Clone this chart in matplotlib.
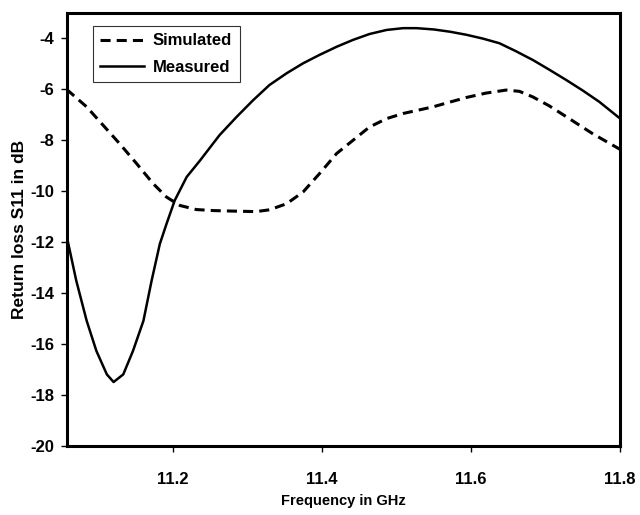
import matplotlib
matplotlib.use('Agg')
from matplotlib import pyplot as plt

# Values
freq_meas = [11.058, 11.071, 11.085, 11.098, 11.112, 11.121, 11.134, 11.147, 11.161, 11.172,
             11.183, 11.192, 11.203, 11.219, 11.237, 11.263, 11.286, 11.308, 11.330, 11.353,
             11.375, 11.397, 11.420, 11.442, 11.464, 11.487, 11.509, 11.527, 11.550, 11.572,
             11.594, 11.616, 11.638, 11.660, 11.683, 11.705, 11.728, 11.750, 11.772, 11.800]
s11_meas = [-11.74, -13.51, -15.09, -16.27, -17.19, -17.49, -17.19, -16.27, -15.09, -13.51,
            -12.07, -11.28, -10.36, -9.44, -8.79, -7.80, -7.08, -6.43, -5.83, -5.37,
            -4.98, -4.65, -4.33, -4.06, -3.83, -3.67, -3.60, -3.60, -3.65, -3.74,
            -3.86, -4.01, -4.19, -4.50, -4.85, -5.23, -5.64, -6.05, -6.49, -7.15]

freq_sim = [11.058, 11.085, 11.107, 11.129, 11.152, 11.174, 11.192, 11.210, 11.232, 11.255,
            11.281, 11.312, 11.330, 11.353, 11.375, 11.397, 11.420, 11.442, 11.464, 11.487,
            11.509, 11.529, 11.549, 11.572, 11.594, 11.620, 11.647, 11.665, 11.683, 11.705,
            11.728, 11.763, 11.800]
s11_sim = [-6.00, -6.69, -7.41, -8.13, -8.92, -9.70, -10.23, -10.56, -10.72, -10.76,
           -10.78, -10.80, -10.73, -10.49, -10.03, -9.31, -8.52, -8.00, -7.48, -7.15,
           -6.95, -6.82, -6.69, -6.50, -6.32, -6.15, -6.03, -6.08, -6.30, -6.65,
           -7.08, -7.74, -8.36]

x_ticks = [11.2, 11.4, 11.6, 11.8]
y_ticks = [-4, -6, -8, -10, -12, -14, -16, -18, -20]

plt.rcParams['font.family'] = ['Liberation Sans', 'DejaVu Sans']
plt.rcParams['font.weight'] = 'bold'

fig = plt.figure(figsize=(6.4, 5.15), dpi=100)
ax = fig.add_axes([0.104, 0.134, 0.865, 0.841])

# simulated and measured curves
ax.plot(freq_sim, s11_sim, color='black', linewidth=2.2, dashes=(3.3, 2.0), label='Simulated')
ax.plot(freq_meas, s11_meas, color='black', linewidth=1.8, label='Measured')

ax.set_xlim(11.058, 11.8)
ax.set_ylim(-20, -3)
ax.set_xticks(x_ticks)
ax.set_xticklabels([str(t) for t in x_ticks])
ax.set_yticks(y_ticks)
ax.set_yticklabels([str(t) for t in y_ticks])

for s in ax.spines.values():
    s.set_linewidth(2.2)
ax.tick_params(direction='out', length=4, width=1, labelsize=12)
ax.tick_params(axis='x', pad=15)
ax.tick_params(axis='y', pad=5)
for lab in ax.get_xticklabels() + ax.get_yticklabels():
    lab.set_fontweight('bold')

ax.set_xlabel('Frequency in GHz', fontsize=10.5, fontweight='bold', labelpad=5)
ax.set_ylabel('Return loss S11 in dB', fontsize=12.5, fontweight='bold', labelpad=2)

leg = ax.legend(loc='upper left', bbox_to_anchor=(0.0475, 0.970), borderaxespad=0,
                fontsize=12, frameon=True, fancybox=False, handlelength=2.6,
                handletextpad=0.55, borderpad=0.45, labelspacing=0.68)
leg.get_frame().set_edgecolor('black')
leg.get_frame().set_linewidth(0.8)
for t in leg.get_texts():
    t.set_fontweight('bold')

plt.savefig('out.png', dpi=100)
